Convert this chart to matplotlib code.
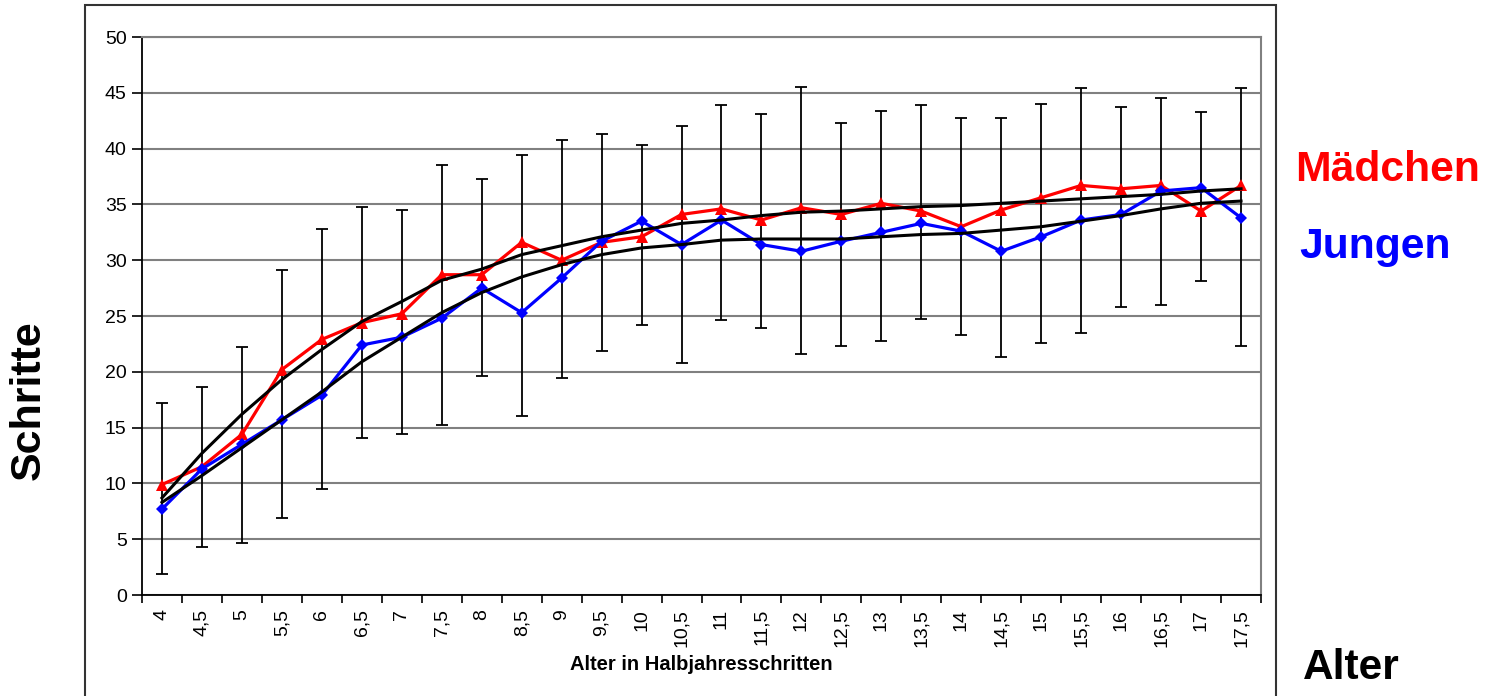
import matplotlib
matplotlib.use("Agg")
import matplotlib.pyplot as plt
from matplotlib.patches import Rectangle
import numpy as np

plt.rcParams['font.family'] = ['Liberation Sans', 'DejaVu Sans']

# Age in half-year steps
alter = ["4", "4,5", "5", "5,5", "6", "6,5", "7", "7,5", "8", "8,5", "9", "9,5",
         "10", "10,5", "11", "11,5", "12", "12,5", "13", "13,5", "14", "14,5",
         "15", "15,5", "16", "16,5", "17", "17,5"]

# Mean steps, girls
maedchen = [9.9, 11.5, 14.4, 20.2, 22.9, 24.4, 25.2, 28.7, 28.7, 31.6, 30.0, 31.6,
            32.1, 34.1, 34.6, 33.6, 34.7, 34.1, 35.1, 34.4, 33.0, 34.5,
            35.6, 36.7, 36.4, 36.7, 34.4, 36.7]

# Mean steps, boys
jungen = [7.7, 11.3, 13.5, 15.7, 17.9, 22.4, 23.1, 24.8, 27.5, 25.3, 28.4, 31.7,
          33.5, 31.4, 33.6, 31.4, 30.8, 31.7, 32.5, 33.3, 32.6, 30.8,
          32.1, 33.6, 34.1, 36.2, 36.5, 33.8]

# Trend curves
trend_maedchen = [8.7, 12.7, 16.2, 19.3, 22.0, 24.5, 26.3, 28.2, 29.2, 30.5, 31.3, 32.1,
                  32.7, 33.3, 33.6, 34.0, 34.3, 34.4, 34.6, 34.8, 34.9, 35.1,
                  35.3, 35.5, 35.7, 35.9, 36.2, 36.4]
trend_jungen = [8.3, 10.7, 13.2, 15.7, 18.2, 20.9, 23.1, 25.3, 27.1, 28.5, 29.6, 30.5,
                31.1, 31.4, 31.8, 31.9, 31.9, 31.9, 32.1, 32.3, 32.4, 32.7,
                33.0, 33.5, 34.0, 34.6, 35.1, 35.3]

# Standard deviation range (lower / upper whisker)
sd_unten = [1.9, 4.3, 4.7, 6.9, 9.5, 14.1, 14.4, 15.2, 19.6, 16.0, 19.4, 21.9,
            24.2, 20.8, 24.6, 23.9, 21.6, 22.3, 22.8, 24.7, 23.3, 21.3,
            22.6, 23.5, 25.8, 26.0, 28.1, 22.3]
sd_oben = [17.2, 18.6, 22.2, 29.1, 32.8, 34.8, 34.5, 38.5, 37.3, 39.4, 40.8, 41.3,
           40.3, 42.0, 43.9, 43.1, 45.5, 42.3, 43.4, 43.9, 42.7, 42.7,
           44.0, 45.4, 43.7, 44.5, 43.3, 45.4]

W, H = 1490, 696
fig = plt.figure(figsize=(W / 100, H / 100), dpi=100)
ax = fig.add_axes([142 / W, 1 - 595 / H, 1119 / W, 558 / H])

x = np.arange(len(alter))
lo = np.array(sd_unten)
hi = np.array(sd_oben)
mid = (lo + hi) / 2

# Grid
ax.set_ylim(0, 50)
ax.set_xlim(-0.5, len(alter) - 0.5)
ax.set_yticks(np.arange(0, 51, 5))
ax.yaxis.grid(True, color='#808080', linewidth=1.5, zorder=0)
ax.set_axisbelow(True)

# Error bars
ax.errorbar(x, mid, yerr=[mid - lo, hi - mid], fmt='none', ecolor='black',
            elinewidth=1.3, capsize=4.5, capthick=1.3, zorder=2)

# Data series
ax.plot(x, maedchen, color='#FF0000', linewidth=2.3, marker='^', markersize=9,
        markeredgewidth=0, zorder=3)
ax.plot(x, jungen, color='#0000FF', linewidth=2.3, marker='D', markersize=6.5,
        markeredgewidth=0, zorder=3)

# Trend curves
ax.plot(x, trend_maedchen, color='black', linewidth=2.2, zorder=4)
ax.plot(x, trend_jungen, color='black', linewidth=2.2, zorder=4)

# Axes styling
for side in ('left', 'bottom'):
    ax.spines[side].set_color('black')
    ax.spines[side].set_linewidth(1.3)
for side in ('top', 'right'):
    ax.spines[side].set_color('#808080')
    ax.spines[side].set_linewidth(1.5)

ax.set_xticks(x)
ax.set_xticklabels(alter, rotation=90, fontsize=14)
ax.set_xticks(np.arange(-0.5, len(alter), 1.0), minor=True)
ax.tick_params(axis='x', which='major', length=0, pad=10)
ax.tick_params(axis='x', which='minor', length=6, width=1.2, color='black')
ax.tick_params(axis='y', length=7, width=1.2, labelsize=14, pad=4)

# Labels
fig.text(701 / W, 1 - 670 / H, "Alter in Halbjahresschritten", fontsize=14.5,
         fontweight='bold', ha='center', va='baseline')
fig.text(29 / W, 1 - 400 / H, "Schritte", fontsize=31, fontweight='bold',
         rotation=90, ha='center', va='center')
fig.text(1295 / W, 1 - 181 / H, "Mädchen", fontsize=30.7, fontweight='bold',
         color='#FF0000', ha='left', va='baseline')
fig.text(1299 / W, 1 - 258 / H, "Jungen", fontsize=30.7, fontweight='bold',
         color='#0000FF', ha='left', va='baseline')
fig.text(1303 / W, 1 - 679 / H, "Alter", fontsize=30.5, fontweight='bold',
         color='black', ha='left', va='baseline')

# Chart frame
fig.patches.append(Rectangle((85 / W, -0.1), (1276 - 85) / W, 1.1 - 5 / H,
                             transform=fig.transFigure, fill=False,
                             edgecolor='#333333', linewidth=1.5))

fig.savefig("out.png", dpi=100)
